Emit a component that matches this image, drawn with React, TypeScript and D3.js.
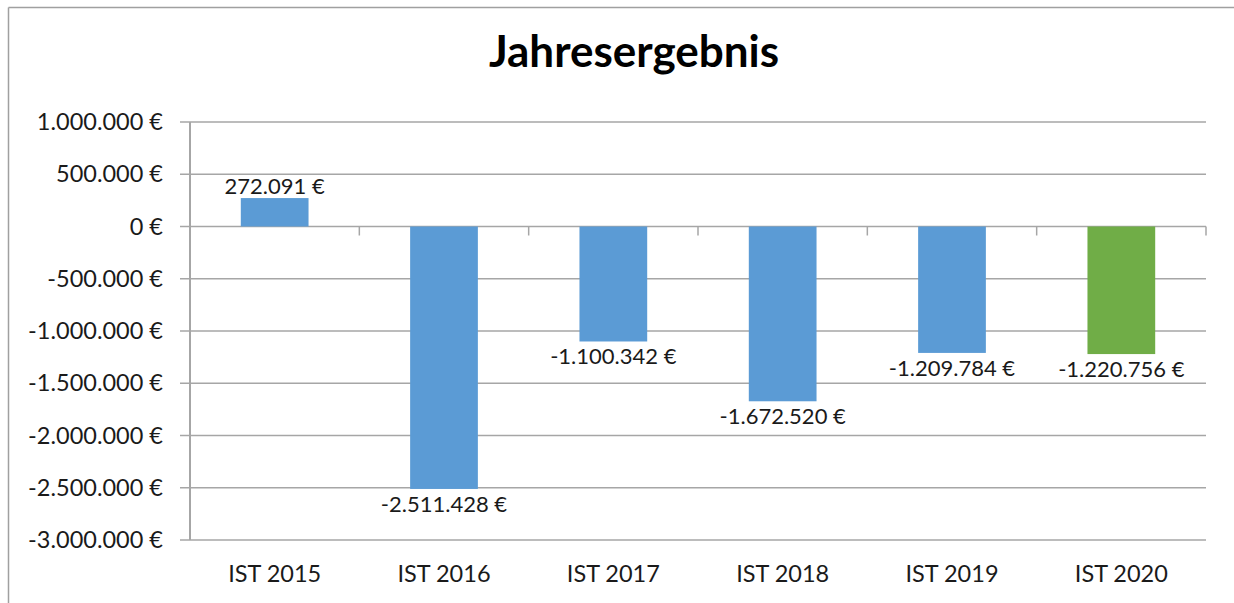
import React, { useEffect } from "react";
import * as d3 from "d3";

const categories = ["IST 2015", "IST 2016", "IST 2017", "IST 2018", "IST 2019", "IST 2020"];
const values = [272091, -2511428, -1100342, -1672520, -1209784, -1220756];
const barColors = ["#5B9BD5", "#5B9BD5", "#5B9BD5", "#5B9BD5", "#5B9BD5", "#70AD47"];
const yTicks = [1000000, 500000, 0, -500000, -1000000, -1500000, -2000000, -2500000, -3000000];
const title = "Jahresergebnis";

const W = 1234;
const H = 603;
const plotLeft = 190;
const plotRight = 1206;
const plotTop = 122;
const plotBottom = 540;

const fmt = (v: number) => {
  const s = Math.abs(Math.round(v)).toString().replace(/\B(?=(\d{3})+(?!\d))/g, ".");
  return (v < 0 ? "-" : "") + s + " €";
};

export default function App() {
  useEffect(() => {
    document.body.style.margin = "0";
    document.body.style.overflow = "hidden";
  }, []);
  const x = d3.scaleBand<string>().domain(categories).range([plotLeft, plotRight]).padding(0);
  const y = d3.scaleLinear().domain([-3000000, 1000000]).range([plotBottom, plotTop]);
  const bw = x.bandwidth() * 0.4;
  const font = "Lato, 'Open Sans', sans-serif";
  const grid = "#a6a6a6";
  const textColor = "#1a1a1a";
  const boundaries = categories.map((c) => (x(c) as number) + x.bandwidth());

  return (
    <svg width={W} height={H} style={{ position: "absolute", left: 0, top: 0, display: "block" }}>
      <rect x={0} y={0} width={W} height={H} fill="#fff" />
      {/* outer border */}
      <line x1={8.5} y1={7.5} x2={W} y2={7.5} stroke="#a0a0a0" strokeWidth={1.5} />
      <line x1={8.5} y1={7.5} x2={8.5} y2={H} stroke="#a0a0a0" strokeWidth={1.5} />

      <text x={634} y={67} textAnchor="middle" fontFamily={font} fontWeight={700} fontSize={44} fill="#000">
        {title}
      </text>

      {/* gridlines and y ticks */}
      {yTicks.map((t) => (
        <g key={t}>
          <line x1={180} x2={plotRight} y1={y(t)} y2={y(t)} stroke={grid} strokeWidth={1.5} />
          <text x={163} y={y(t) + 8} textAnchor="end" fontFamily={font} fontSize={23.5} fill={textColor}>
            {fmt(t)}
          </text>
        </g>
      ))}

      {/* category tick marks on zero line */}
      {boundaries.map((b, i) => (
        <line key={i} x1={b} x2={b} y1={y(0)} y2={y(0) + 9} stroke={grid} strokeWidth={1.5} />
      ))}

      {/* y axis line */}
      <line x1={plotLeft} x2={plotLeft} y1={plotTop} y2={plotBottom} stroke={grid} strokeWidth={2} />

      {/* bars */}
      {categories.map((c, i) => {
        const cx = (x(c) as number) + x.bandwidth() / 2;
        const v = values[i];
        const y0 = y(Math.max(0, v));
        const y1 = y(Math.min(0, v));
        return (
          <g key={c}>
            <rect x={cx - bw / 2} y={y0} width={bw} height={y1 - y0} fill={barColors[i]} />
            <text
              x={cx}
              y={v >= 0 ? y0 - 4 : y1 + 23}
              textAnchor="middle"
              fontFamily={font}
              fontSize={22}
              fill={textColor}
            >
              {fmt(v)}
            </text>
            <text x={cx} y={582} textAnchor="middle" fontFamily={font} fontSize={23.5} fill={textColor}>
              {c}
            </text>
          </g>
        );
      })}
    </svg>
  );
}
